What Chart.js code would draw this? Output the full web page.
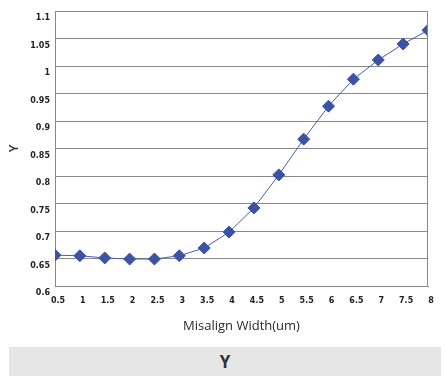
<!DOCTYPE html>
<html>
<head>
<meta charset="utf-8">
<script src="https://cdn.jsdelivr.net/npm/chart.js@4/dist/chart.umd.min.js"></script>
<style>
  body { margin: 0; background: #fff; width: 445px; height: 380px; position: relative; overflow: hidden; }
  #wrap { position: absolute; left: 0; top: 0; width: 445px; height: 345px; }
  #band { position: absolute; left: 9px; top: 347px; width: 432px; height: 29px; background: #e6e6e6;
          font: bold 17px "Open Sans", sans-serif; color: #333; text-align: center; line-height: 29px; }
</style>
</head>
<body>
<div id="wrap"><canvas id="chart"></canvas></div>
<div id="band">Y</div>
<script>
const widths = [0.5, 1, 1.5, 2, 2.5, 3, 3.5, 4, 4.5, 5, 5.5, 6, 6.5, 7, 7.5, 8];
const yValues = [0.656, 0.655, 0.651, 0.649, 0.649, 0.655, 0.669, 0.698, 0.742, 0.802, 0.867, 0.927, 0.976, 1.011, 1.04, 1.065];
const yMin = 0.6, yMax = 1.1, yStep = 0.05;

const points = widths.map((w, i) => ({ x: w, y: yValues[i] }));
const tickFont = { family: 'DejaVu Sans', size: 8, weight: 'bold' };
const fmt = (v) => String(Number(v.toFixed(2)));

const chart = new Chart(document.getElementById('chart').getContext('2d'), {
    type: 'line',
    data: { datasets: [{ data: points, borderColor: '#4a5db0', borderWidth: 1, pointStyle: 'rectRot', pointRadius: 6, pointHoverRadius: 6, pointBackgroundColor: '#3b52a5', pointBorderColor: '#3b52a5', tension: 0 }] },
    options: {
        responsive: true, maintainAspectRatio: false, animation: false,
        layout: { padding: { top: 11, right: 17, left: 6, bottom: 7 } },
        scales: {
            x: { type: 'linear', min: 0.5, max: 8, border: { display: true, color: '#888' },
                 grid: { display: false }, ticks: { stepSize: 0.5, color: '#222', font: tickFont, padding: 2, maxRotation: 0, autoSkip: false, labelOffset: 3, callback: fmt },
                 title: { display: true, text: 'Misalign Width(um)', color: '#2a2a2a', font: { family: 'Open Sans', size: 13 }, padding: { top: 8 } },
                 afterFit: (s) => { s.height = 52; } },
            y: { min: yMin, max: yMax, border: { display: true, color: '#888' },
                 grid: { color: '#888', drawTicks: false }, ticks: { stepSize: yStep, color: '#222', font: tickFont, padding: 5, labelOffset: 7, callback: fmt },
                 title: { display: true, text: 'Y', color: '#333', font: { family: 'Open Sans', size: 13, weight: '600' }, padding: 0 },
                 afterFit: (s) => { s.width = 49; } }
        },
        plugins: { legend: { display: false }, tooltip: { enabled: false } }
    },
    plugins: [{
        id: 'frame',
        afterDraw(c) {
            const a = c.chartArea, ctx = c.ctx;
            ctx.save();
            ctx.strokeStyle = '#888'; ctx.lineWidth = 1;
            ctx.beginPath();
            ctx.moveTo(a.left, a.top + 0.5); ctx.lineTo(a.right, a.top + 0.5);
            ctx.moveTo(a.right - 0.5, a.top); ctx.lineTo(a.right - 0.5, a.bottom);
            ctx.stroke();
            ctx.restore();
        }
    }]
});
</script>
</body>
</html>
